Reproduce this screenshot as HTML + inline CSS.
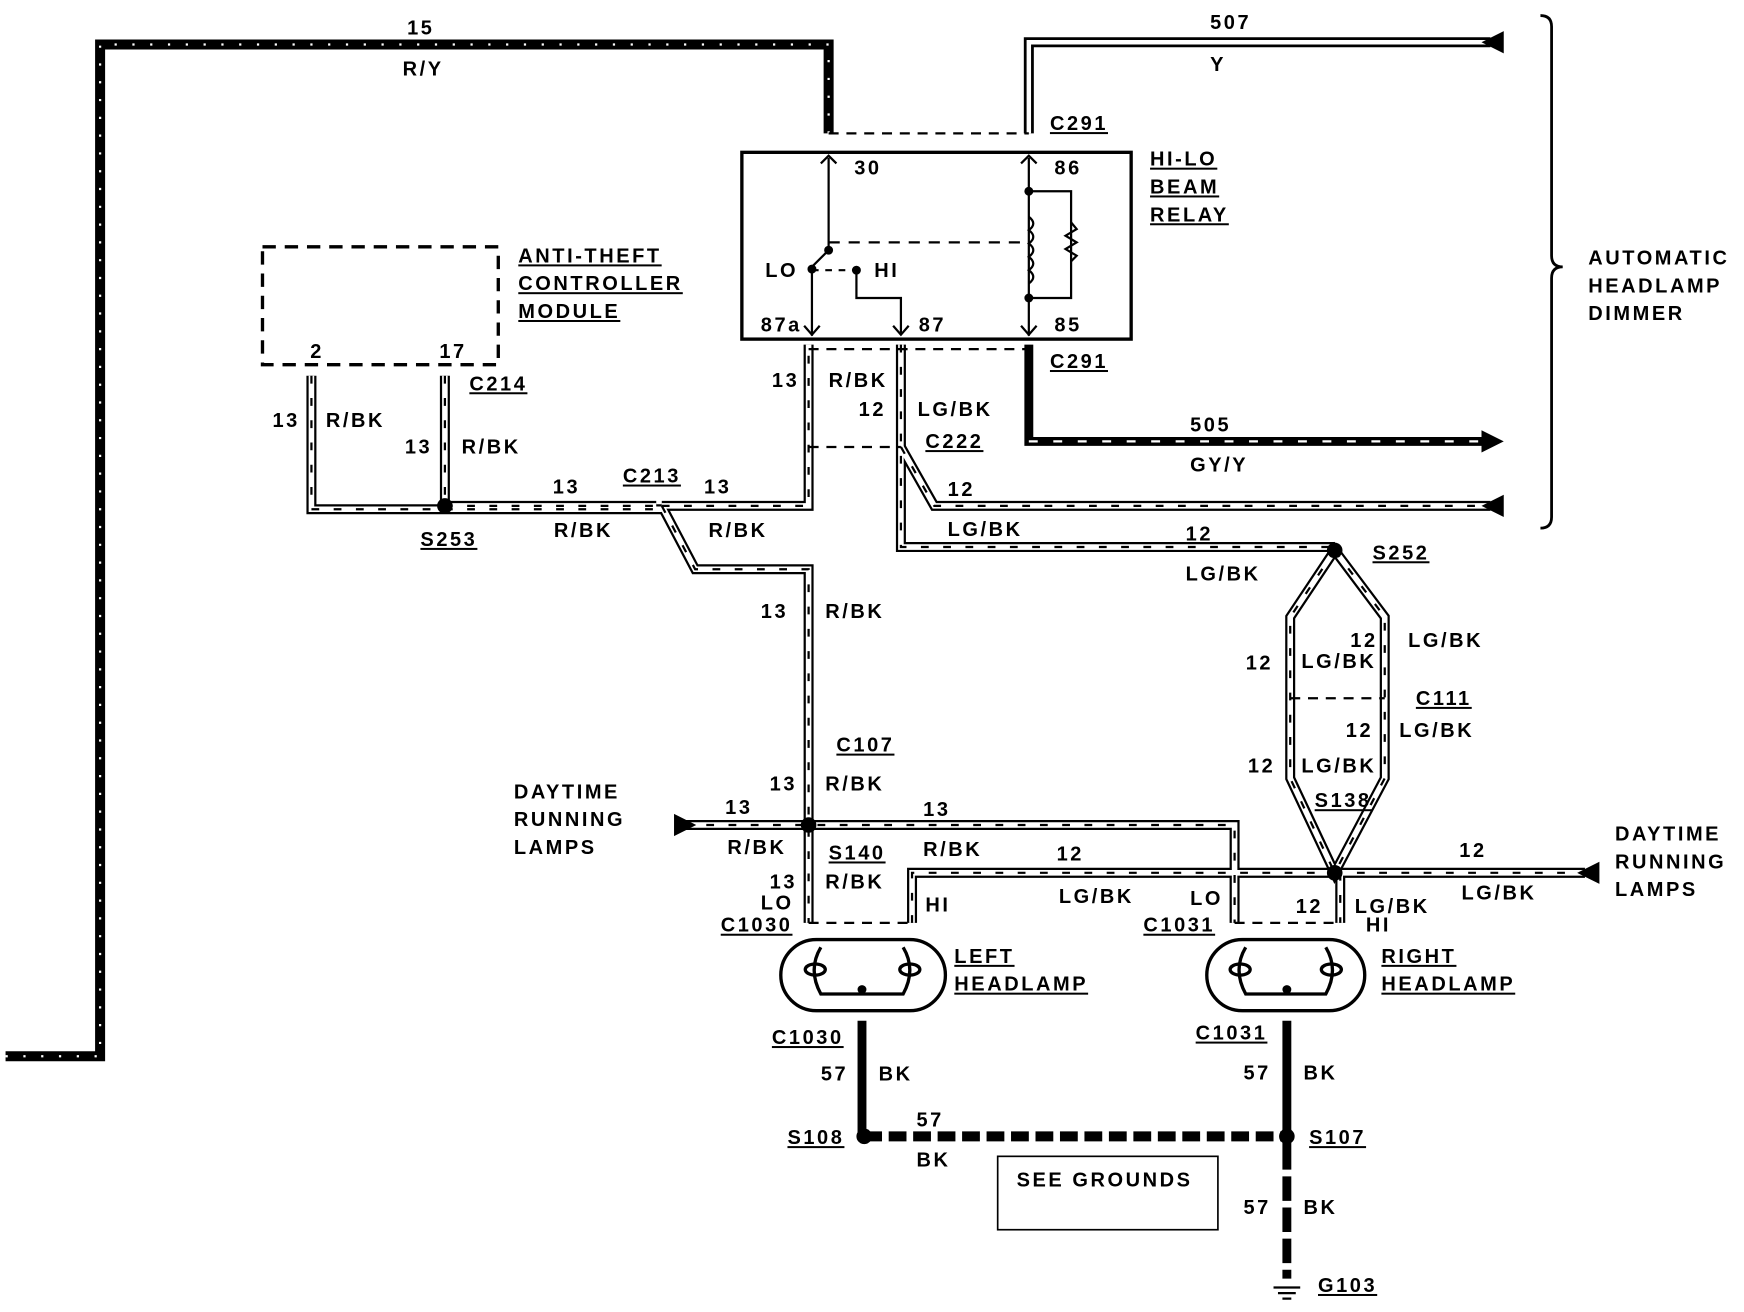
<!DOCTYPE html>
<html><head><meta charset="utf-8">
<style>
html,body{margin:0;padding:0;background:#fff;}
svg{display:block}
text{font-family:"Liberation Sans",sans-serif;font-weight:bold;font-size:18px;letter-spacing:2.3px;fill:#000;}
.u{text-decoration:underline}
</style></head><body>
<svg width="1744" height="1312" viewBox="0 0 1568 1180" preserveAspectRatio="none" xmlns="http://www.w3.org/2000/svg">
<g fill="none" stroke-linejoin="miter">
<path d="M5,950 H90 V40 H745 V120" stroke="#000" stroke-width="9"/>
<path d="M5,950 H90 V40 H745 V120" stroke="#fff" stroke-width="2" stroke-dasharray="2 14"/>
<path d="M925,120 V38 H1340" stroke="#000" stroke-width="9"/>
<path d="M925,120 V38 H1340" stroke="#fff" stroke-width="4"/>
<path d="M925,310 V397 H1340" stroke="#000" stroke-width="8"/>
<path d="M925,397 H1340" stroke="#fff" stroke-width="2" stroke-dasharray="8 14"/>
<path id="p1" d="M280,338 V458 H595"/>
<path id="p2" d="M400,338 V455"/>
<path id="p3" d="M400,455 H590"/>
<path id="p4" d="M595,455 H727 V310"/>
<path id="p5" d="M595,455 L625,512 H727 V830"/>
<path id="p6" d="M810,310 V492 H1200"/>
<path id="p7" d="M810,402 L840,455 H1340"/>
<path id="p8" d="M615,742 H1110 V830"/>
<path id="p9" d="M820,830 V785 H1200"/>
<path id="p10" d="M1200,495 L1160,555 V700 L1200,785 L1245,700 V555 Z"/>
<path id="p11" d="M1200,785 H1425"/>
<path id="p12" d="M1205,785 V830"/>
</g>
<g fill="none" stroke="#000" stroke-width="9">
<use href="#p1"/><use href="#p2"/><use href="#p3"/><use href="#p4"/><use href="#p5"/><use href="#p6"/><use href="#p7"/><use href="#p8"/><use href="#p9"/><use href="#p10"/><use href="#p11"/><use href="#p12"/>
</g>
<g fill="none" stroke="#fff" stroke-width="5">
<use href="#p1"/><use href="#p2"/><use href="#p3"/><use href="#p4"/><use href="#p5"/><use href="#p6"/><use href="#p7"/><use href="#p8"/><use href="#p9"/><use href="#p10"/><use href="#p11"/><use href="#p12"/>
</g>
<g fill="none" stroke="#000" stroke-width="2" stroke-dasharray="7 13">
<use href="#p1"/><use href="#p2"/><use href="#p3"/><use href="#p4"/><use href="#p5"/><use href="#p6"/><use href="#p7"/><use href="#p8"/><use href="#p9"/><use href="#p10"/><use href="#p11"/><use href="#p12"/>
</g>
<polygon points="1352,28 1352,48 1332,38" fill="#000"/>
<polygon points="1352,397 1332,387 1332,407" fill="#000"/>
<polygon points="1352,445 1352,465 1332,455" fill="#000"/>
<polygon points="606,732 606,752 626,742" fill="#000"/>
<polygon points="1438,775 1438,795 1418,785" fill="#000"/>
<g stroke="#000" stroke-width="2" stroke-dasharray="9 7" fill="none">
<path d="M745,120 H925"/><path d="M727,314 H925"/><path d="M727,402 H810"/><path d="M1160,628 H1245"/>
<path d="M727,830 H820"/><path d="M1110,830 H1205"/>
</g>
<rect x="667" y="137" width="350" height="168" fill="none" stroke="#000" stroke-width="3"/>
<g stroke="#000" stroke-width="2" fill="none">
<path d="M745,142 V225 L730,240 V302"/><path d="M738,147 L745,140 L752,147"/>
<path d="M723,293 L730,301 L737,293"/><path d="M803,293 L810,301 L817,293"/>
<path d="M770,243 V268 H810 V301"/>
<path d="M925,142 V302"/><path d="M918,147 L925,140 L932,147"/><path d="M918,293 L925,301 L932,293"/>
<path d="M925,172 H963 V268 H925"/>
<path d="M963,200 l5,6 l-10,6 l10,6 l-10,6 l10,6 l-5,5"/>
<path d="M925,195 q8,6 0,12 q8,6 0,12 q8,6 0,12 q8,6 0,12 q8,6 0,12"/>
<path d="M745,218 H925" stroke-dasharray="10 8"/>
<path d="M730,243 H770" stroke-dasharray="6 6"/>
</g>
<g fill="#000"><circle cx="745" cy="225" r="4"/><circle cx="730" cy="242" r="4"/><circle cx="770" cy="243" r="4"/><circle cx="925" cy="172" r="4"/><circle cx="925" cy="268" r="4"/></g>
<rect x="236" y="222" width="212" height="106" fill="none" stroke="#000" stroke-width="3" stroke-dasharray="12 8"/>
<g fill="#000"><circle cx="400" cy="455" r="7"/><circle cx="1200" cy="495" r="7"/><circle cx="727" cy="742" r="7"/><circle cx="1200" cy="785" r="7"/><circle cx="777" cy="1022" r="7"/><circle cx="1157" cy="1022" r="7"/></g>
<g fill="none" stroke="#000" stroke-width="3">
<rect x="702" y="845" width="148" height="64" rx="32"/>
<rect x="1085" y="845" width="142" height="64" rx="32"/>
<path d="M738,852 q-12,20 0,42 H812 q12,-22 0,-42"/>
<path d="M1120,852 q-12,20 0,42 H1192 q12,-22 0,-42"/>
<ellipse cx="733" cy="872" rx="9" ry="5"/><ellipse cx="818" cy="872" rx="9" ry="5"/>
<ellipse cx="1115" cy="872" rx="9" ry="5"/><ellipse cx="1197" cy="872" rx="9" ry="5"/>
</g>
<g fill="#000"><circle cx="775" cy="890" r="4"/><circle cx="1157" cy="890" r="4"/></g>
<path d="M775,918 V1022" stroke="#000" stroke-width="8"/>
<path d="M1157,918 V1150" stroke="#000" stroke-width="8"/>
<path d="M777,1022 H1157" stroke="#000" stroke-width="9" stroke-dasharray="16 6"/>
<path d="M1157,1030 V1150" stroke="#fff" stroke-width="9" stroke-dasharray="0 22 6 0"/>
<g stroke="#000" stroke-width="2"><path d="M1145,1158 H1169 M1149,1163 H1165 M1153,1168 H1161"/></g>
<rect x="897" y="1040" width="198" height="66" fill="none" stroke="#000" stroke-width="1.5"/>
<path d="M1385,14 q10,0 10,10 V230 q0,10 10,10 q-10,0 -10,10 V465 q0,10 -10,10" fill="none" stroke="#000" stroke-width="2.5"/>
<text x="366" y="31">15</text><text x="362" y="68">R/Y</text>
<text x="1088" y="26">507</text><text x="1088" y="64">Y</text>
<text x="944" y="117" class="u">C291</text>
<text x="1034" y="149" class="u">HI-LO</text><text x="1034" y="174" class="u">BEAM</text><text x="1034" y="199" class="u">RELAY</text>
<g style="font-size:13px;letter-spacing:1px"><text x="768" y="157">30</text><text x="948" y="157">86</text><text x="688" y="249">LO</text><text x="786" y="249">HI</text><text x="684" y="298">87a</text><text x="826" y="298">87</text><text x="948" y="298">85</text></g>
<text x="944" y="331" class="u">C291</text>
<text x="1070" y="388">505</text><text x="1070" y="424">GY/Y</text>
<text x="1428" y="238">AUTOMATIC</text><text x="1428" y="263">HEADLAMP</text><text x="1428" y="288">DIMMER</text>
<text x="466" y="236" class="u">ANTI-THEFT</text><text x="466" y="261" class="u">CONTROLLER</text><text x="466" y="286" class="u">MODULE</text>
<g style="font-size:13px;letter-spacing:1px"><text x="279" y="322">2</text><text x="395" y="322">17</text></g>
<text x="422" y="351" class="u">C214</text>
<text x="245" y="384">13</text><text x="293" y="384">R/BK</text>
<text x="364" y="408">13</text><text x="415" y="408">R/BK</text>
<text x="378" y="491" class="u">S253</text>
<text x="497" y="444">13</text><text x="498" y="483">R/BK</text>
<text x="560" y="434" class="u">C213</text>
<text x="633" y="444">13</text><text x="637" y="483">R/BK</text>
<text x="694" y="348">13</text><text x="745" y="348">R/BK</text>
<text x="772" y="374">12</text><text x="825" y="374">LG/BK</text>
<text x="832" y="403" class="u">C222</text>
<text x="852" y="446">12</text><text x="852" y="482">LG/BK</text>
<text x="1066" y="486">12</text><text x="1066" y="522">LG/BK</text>
<text x="1234" y="503" class="u">S252</text>
<text x="684" y="556">13</text><text x="742" y="556">R/BK</text>
<text x="1214" y="582">12</text><text x="1266" y="582">LG/BK</text>
<text x="1120" y="602">12</text><text x="1170" y="601">LG/BK</text>
<text x="1273" y="634" class="u">C111</text>
<text x="1210" y="663">12</text><text x="1258" y="663">LG/BK</text>
<text x="1122" y="695">12</text><text x="1170" y="695">LG/BK</text>
<text x="1182" y="726" class="u">S138</text>
<text x="752" y="676" class="u">C107</text>
<text x="692" y="711">13</text><text x="742" y="711">R/BK</text>
<text x="462" y="718">DAYTIME</text><text x="462" y="743">RUNNING</text><text x="462" y="768">LAMPS</text>
<text x="652" y="732">13</text><text x="654" y="768">R/BK</text>
<text x="830" y="734">13</text><text x="830" y="770">R/BK</text>
<text x="745" y="773" class="u">S140</text>
<text x="692" y="799">13</text><text x="742" y="799">R/BK</text>
<text x="684" y="818">LO</text><text x="648" y="838" class="u">C1030</text>
<text x="832" y="820">HI</text>
<text x="950" y="774">12</text><text x="952" y="812">LG/BK</text>
<text x="1070" y="814">LO</text><text x="1028" y="838" class="u">C1031</text>
<text x="1312" y="771">12</text><text x="1314" y="809">LG/BK</text>
<text x="1452" y="756">DAYTIME</text><text x="1452" y="781">RUNNING</text><text x="1452" y="806">LAMPS</text>
<text x="1165" y="821">12</text><text x="1218" y="821">LG/BK</text><text x="1228" y="838">HI</text>
<text x="858" y="866" class="u">LEFT</text><text x="858" y="891" class="u">HEADLAMP</text>
<text x="1242" y="866" class="u">RIGHT</text><text x="1242" y="891" class="u">HEADLAMP</text>
<text x="694" y="939" class="u">C1030</text><text x="1075" y="935" class="u">C1031</text>
<text x="738" y="972">57</text><text x="790" y="972">BK</text>
<text x="1118" y="971">57</text><text x="1172" y="971">BK</text>
<text x="708" y="1029" class="u">S108</text>
<text x="824" y="1013">57</text><text x="824" y="1049">BK</text>
<text x="1177" y="1029" class="u">S107</text>
<text x="914" y="1067">SEE GROUNDS</text>
<text x="1118" y="1092">57</text><text x="1172" y="1092">BK</text>
<text x="1185" y="1162" class="u">G103</text>
</svg>
</body></html>
